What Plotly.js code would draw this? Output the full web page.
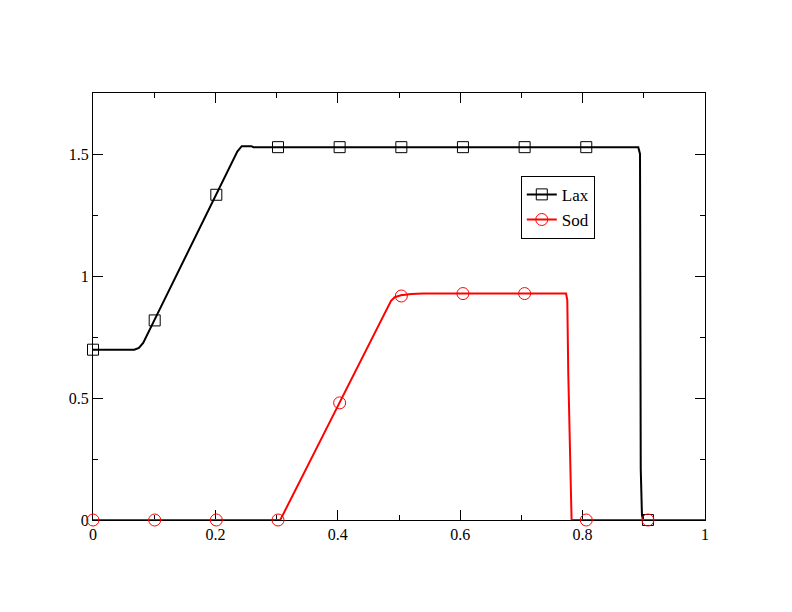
<!DOCTYPE html>
<html>
<head>
<meta charset="utf-8">
<script src="https://cdn.plot.ly/plotly-3.0.1.min.js"></script>
<style>html,body{margin:0;padding:0;background:#fff;}</style>
</head>
<body>
<div id="chart" style="width:792px;height:612px;"></div>
<script>
// Lax profile (line)
const laxX = [0, 0.0675, 0.075, 0.082, 0.0997, 0.201, 0.2358, 0.243, 0.259, 0.262, 0.891, 0.8938, 0.8938, 0.895, 0.897, 0.899, 1.0];
const laxY = [0.698, 0.698, 0.705, 0.726, 0.816, 1.333, 1.51, 1.532, 1.532, 1.528, 1.528, 1.50, 1.11, 0.21, 0.02, 0, 0];
// Sod profile (line)
const sodX = [0, 0.306, 0.4027, 0.487, 0.493, 0.503, 0.52, 0.54, 0.773, 0.775, 0.7766, 0.779, 0.781, 0.782, 1.0];
const sodY = [0, 0, 0.48, 0.898, 0.913, 0.921, 0.926, 0.928, 0.928, 0.90, 0.6, 0.35, 0.08, 0, 0];
// Marker samples
const markX = [0, 0.1008, 0.2015, 0.3023, 0.403, 0.5038, 0.6045, 0.7053, 0.806, 0.9068];
const laxMarkY = [0.698, 0.818, 1.333, 1.528, 1.528, 1.528, 1.528, 1.528, 1.528, 0];
const sodMarkY = [0, 0, 0, 0, 0.48, 0.918, 0.928, 0.928, 0, 0];
// Ticks
const xTickVals = [0, 0.2, 0.4, 0.6, 0.8, 1];
const xTickText = ["0", "0.2", "0.4", "0.6", "0.8", "1"];
const yTickVals = [0, 0.5, 1, 1.5];
const yTickText = ["0", "0.5", "1", "1.5"];

function gapped(xs, ys) {
  const gx = [], gy = [];
  xs.forEach((x, i) => { gx.push(x, null); gy.push(ys[i], null); });
  return {x: gx, y: gy};
}

const FONT = "Liberation Serif";
const lm = gapped(markX, laxMarkY);
const sm = gapped(markX, sodMarkY);

const traces = [
  {x: laxX, y: laxY, mode: "lines", line: {color: "#000", width: 2}, showlegend: false, cliponaxis: false, hoverinfo: "skip"},
  {x: lm.x, y: lm.y, mode: "lines+markers", name: "Lax", connectgaps: false, cliponaxis: false,
   line: {color: "#000", width: 2},
   marker: {symbol: "square-open", size: 11, color: "#000", line: {width: 1, color: "#000"}}},
  {x: sodX, y: sodY, mode: "lines", line: {color: "#ff0000", width: 2}, showlegend: false, cliponaxis: false, hoverinfo: "skip"},
  {x: sm.x, y: sm.y, mode: "lines+markers", name: "Sod", connectgaps: false, cliponaxis: false,
   line: {color: "#ff0000", width: 2},
   marker: {symbol: "circle-open", size: 12, color: "#ff0000", line: {width: 1, color: "#ff0000"}}}
];

const axisCommon = {
  showgrid: false, zeroline: false, showline: true, linecolor: "#000", linewidth: 1,
  mirror: "ticks", ticks: "inside", ticklen: 10, tickwidth: 1, tickcolor: "#000",
  tickfont: {family: FONT, size: 16, color: "#000"}, layer: "below traces"
};

const layout = {
  width: 792, height: 612,
  margin: {l: 93, r: 87, t: 93, b: 92},
  paper_bgcolor: "#fff", plot_bgcolor: "#fff",
  font: {family: FONT, size: 16, color: "#000"},
  xaxis: Object.assign({}, axisCommon, {
    range: [0, 1], tickvals: xTickVals, ticktext: xTickText,
    minor: {ticks: "inside", ticklen: 5, tickwidth: 1, tickcolor: "#000", dtick: 0.1, tick0: 0}
  }),
  yaxis: Object.assign({}, axisCommon, {
    range: [0, 1.75], tickvals: yTickVals, ticktext: yTickText,
    minor: {ticks: "inside", ticklen: 5, tickwidth: 1, tickcolor: "#000", dtick: 0.25, tick0: 0}
  }),
  legend: {
    x: 0.699, y: 0.806, xanchor: "left", yanchor: "top",
    bgcolor: "#fff", bordercolor: "#000", borderwidth: 1,
    font: {family: FONT, size: 17, color: "#000"}, itemwidth: 30, tracegroupgap: 0
  },
  showlegend: true
};

Plotly.newPlot("chart", traces, layout, {displayModeBar: false, staticPlot: true});
</script>
</body>
</html>
